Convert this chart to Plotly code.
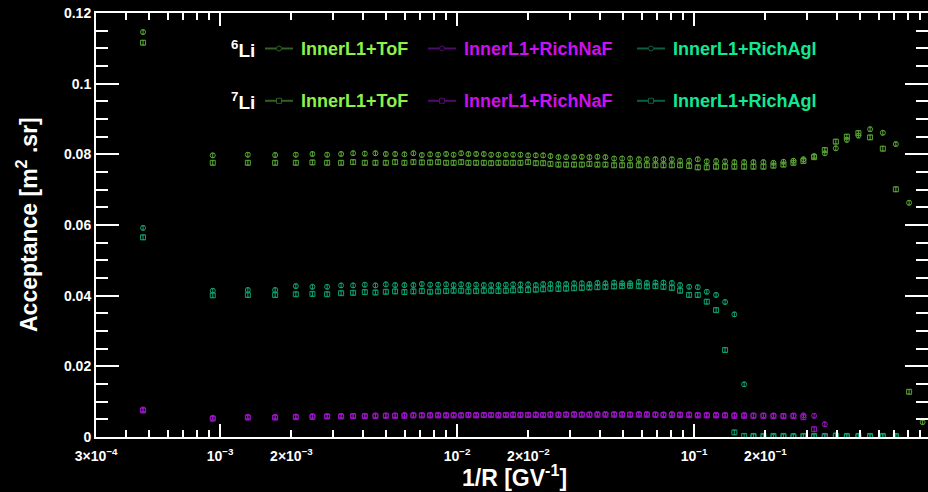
import numpy as np
import plotly.graph_objects as go

# 1/R bin centres [GV^-1]
inv_rigidity = [
    4.73e-4, 9.31e-4, 1.309e-3, 1.707e-3, 2.087e-3, 2.452e-3, 2.829e-3, 3.240e-3, 3.641e-3, 4.079e-3,
    4.522e-3, 5.003e-3, 5.475e-3, 5.993e-3, 6.541e-3, 7.098e-3, 7.694e-3, 8.314e-3, 8.987e-3, 9.665e-3,
    1.040e-2, 1.116e-2, 1.203e-2, 1.296e-2, 1.392e-2, 1.494e-2, 1.606e-2, 1.723e-2, 1.850e-2, 1.993e-2,
    2.148e-2, 2.307e-2, 2.476e-2, 2.676e-2, 2.884e-2, 3.116e-2, 3.359e-2, 3.616e-2, 3.908e-2, 4.224e-2,
    4.597e-2, 4.969e-2, 5.370e-2, 5.845e-2, 6.317e-2, 6.866e-2, 7.423e-2, 8.054e-2, 8.728e-2, 9.526e-2,
    0.1036, 0.1131, 0.1238, 0.1351, 0.1479, 0.1626, 0.1780, 0.1961, 0.2161, 0.2382,
    0.2624, 0.2892, 0.3208, 0.3560, 0.3962, 0.4410, 0.4934, 0.5527, 0.6255, 0.7098,
    0.8076, 0.9207,
]

# 6Li acceptances [m^2 sr]
li6_tof = [
    0.1146, 0.0797, 0.0799, 0.0798, 0.0799, 0.0801, 0.0799, 0.0801, 0.0803, 0.0802,
    0.0803, 0.0801, 0.0801, 0.0800, 0.0803, 0.0798, 0.0800, 0.0799, 0.0801, 0.0799,
    0.0803, 0.0801, 0.0801, 0.0801, 0.0799, 0.0799, 0.0799, 0.0799, 0.0799, 0.0797,
    0.0797, 0.0797, 0.0795, 0.0792, 0.0792, 0.0792, 0.0793, 0.0792, 0.0793, 0.0792,
    0.0788, 0.0788, 0.0788, 0.0786, 0.0786, 0.0786, 0.0786, 0.0786, 0.0782, 0.0782,
    0.0786, 0.0780, 0.0781, 0.0780, 0.0778, 0.0778, 0.0778, 0.0778, 0.0776, 0.0779,
    0.0782, 0.0786, 0.0795, 0.0803, 0.0817, 0.0841, 0.0853, 0.0871, 0.0861, 0.0829,
    0.0663, 0.0042,
]
li6_naf = [
    0.0078, 0.0054, 0.0057, 0.0057, 0.0058, 0.0059, 0.0059, 0.0060, 0.0060, 0.0060,
    0.0061, 0.0061, 0.0061, 0.0062, 0.0062, 0.0062, 0.0062, 0.0063, 0.0062, 0.0063,
    0.0062, 0.0063, 0.0063, 0.0062, 0.0063, 0.0063, 0.0063, 0.0064, 0.0063, 0.0063,
    0.0064, 0.0063, 0.0064, 0.0064, 0.0064, 0.0065, 0.0064, 0.0064, 0.0065, 0.0065,
    0.0065, 0.0065, 0.0064, 0.0065, 0.0065, 0.0064, 0.0064, 0.0065, 0.0064, 0.0064,
    0.0063, 0.0063, 0.0063, 0.0062, 0.0062, 0.0062, 0.0061, 0.0061, 0.0061, 0.0060,
    0.0061, 0.0061, 0.0060, 0.0036, None, None, None, None, None, None,
    None, None,
]
li6_agl = [
    0.0592, 0.0414, 0.0416, 0.0416, 0.0427, 0.0425, 0.0425, 0.0429, 0.0429, 0.0431,
    0.0429, 0.0432, 0.0430, 0.0430, 0.0430, 0.0433, 0.0431, 0.0431, 0.0432, 0.0430,
    0.0432, 0.0430, 0.0431, 0.0430, 0.0430, 0.0430, 0.0431, 0.0432, 0.0432, 0.0432,
    0.0430, 0.0433, 0.0433, 0.0433, 0.0433, 0.0435, 0.0435, 0.0433, 0.0436, 0.0435,
    0.0437, 0.0435, 0.0435, 0.0439, 0.0436, 0.0437, 0.0437, 0.0436, 0.0430, 0.0425,
    0.0424, 0.0411, 0.0402, 0.0382, 0.0347, 0.0149, 0.0003, 0.0003, 0.0002, 0.0003,
    0.0003, 0.0003, 0.0003, 0.0002, 0.0004, 0.0003, 0.0003, 0.0003, 0.0003, 0.0003,
    None, None,
]

# 7Li acceptances [m^2 sr]
li7_tof = [
    0.1116, 0.0776, 0.0776, 0.0776, 0.0776, 0.0777, 0.0776, 0.0776, 0.0778, 0.0776,
    0.0776, 0.0776, 0.0778, 0.0776, 0.0778, 0.0777, 0.0777, 0.0778, 0.0776, 0.0776,
    0.0778, 0.0776, 0.0776, 0.0776, 0.0775, 0.0776, 0.0776, 0.0776, 0.0776, 0.0778,
    0.0775, 0.0775, 0.0773, 0.0771, 0.0771, 0.0771, 0.0771, 0.0773, 0.0771, 0.0771,
    0.0769, 0.0769, 0.0769, 0.0769, 0.0769, 0.0769, 0.0769, 0.0769, 0.0769, 0.0767,
    0.0763, 0.0763, 0.0765, 0.0765, 0.0765, 0.0765, 0.0765, 0.0765, 0.0768, 0.0771,
    0.0776, 0.0781, 0.0792, 0.0812, 0.0836, 0.0850, 0.0860, 0.0848, 0.0816, 0.0701,
    0.0128, None,
]
li7_naf = [
    0.0075, 0.0052, 0.0055, 0.0055, 0.0056, 0.0057, 0.0058, 0.0058, 0.0059, 0.0059,
    0.0059, 0.0060, 0.0060, 0.0060, 0.0061, 0.0061, 0.0061, 0.0061, 0.0061, 0.0061,
    0.0061, 0.0062, 0.0061, 0.0062, 0.0062, 0.0061, 0.0062, 0.0062, 0.0062, 0.0062,
    0.0062, 0.0062, 0.0063, 0.0062, 0.0063, 0.0063, 0.0063, 0.0063, 0.0063, 0.0063,
    0.0063, 0.0063, 0.0063, 0.0063, 0.0063, 0.0063, 0.0062, 0.0062, 0.0062, 0.0062,
    0.0061, 0.0061, 0.0061, 0.0061, 0.0060, 0.0060, 0.0060, 0.0060, 0.0059, 0.0059,
    0.0059, 0.0056, 0.0022, 0.0002, None, None, None, None, None, None,
    None, None,
]
li7_agl = [
    0.0565, 0.0401, 0.0402, 0.0402, 0.0404, 0.0405, 0.0404, 0.0407, 0.0408, 0.0410,
    0.0409, 0.0411, 0.0412, 0.0410, 0.0412, 0.0413, 0.0411, 0.0412, 0.0413, 0.0414,
    0.0414, 0.0412, 0.0413, 0.0414, 0.0414, 0.0413, 0.0414, 0.0415, 0.0416, 0.0416,
    0.0417, 0.0418, 0.0420, 0.0419, 0.0420, 0.0421, 0.0422, 0.0423, 0.0424, 0.0425,
    0.0426, 0.0427, 0.0428, 0.0427, 0.0426, 0.0427, 0.0425, 0.0422, 0.0414, 0.0402,
    0.0402, 0.0383, 0.0359, 0.0246, 0.0013, 0.0003, 0.0003, 0.0003, 0.0003, 0.0003,
    0.0002, 0.0003, 0.0003, 0.0003, 0.0004, 0.0003, 0.0003, 0.0003, 0.0003, 0.0003,
    None, None,
]

labels = ["InnerL1+ToF", "InnerL1+RichNaF", "InnerL1+RichAgl"]
x_label_vals = [3e-4, 1e-3, 2e-3, 1e-2, 2e-2, 1e-1, 2e-1]
x_label_text = ["3×10<sup>−4</sup>", "10<sup>−3</sup>", "2×10<sup>−3</sup>", "10<sup>−2</sup>",
                "2×10<sup>−2</sup>", "10<sup>−1</sup>", "2×10<sup>−1</sup>"]
y_label_vals = [0, 0.02, 0.04, 0.06, 0.08, 0.1, 0.12]
y_label_text = ["0", "0.02", "0.04", "0.06", "0.08", "0.1", "0.12"]

# styling
W, H = 928, 492
ML, MR, MT, MB = 96, 0, 13, 55
PX_PER_DEC = 237.0
X_LO = np.log10(3e-4) - 0.0008
X_HI = X_LO + (W - ML - MR) / PX_PER_DEC
FONT = "Liberation Sans"
WHITE = "#ffffff"

text_col = {"InnerL1+ToF": "#8ef04a", "InnerL1+RichNaF": "#cc10f0", "InnerL1+RichAgl": "#12e894"}
mark_col = {"InnerL1+ToF": "#58a236", "InnerL1+RichNaF": "#9a14c4", "InnerL1+RichAgl": "#0fa06c"}
leg_col = {"InnerL1+ToF": "#2f6024", "InnerL1+RichNaF": "#520a6c", "InnerL1+RichAgl": "#0c5e42"}

series = [
    ("InnerL1+ToF", li6_tof, "circle-open"),
    ("InnerL1+RichNaF", li6_naf, "circle-open"),
    ("InnerL1+RichAgl", li6_agl, "circle-open"),
    ("InnerL1+ToF", li7_tof, "square-open"),
    ("InnerL1+RichNaF", li7_naf, "square-open"),
    ("InnerL1+RichAgl", li7_agl, "square-open"),
]

fig = go.Figure()
for name, vals, sym in series:
    c = mark_col[name]
    fig.add_trace(go.Scatter(
        x=inv_rigidity, y=vals, mode="markers", name=name, showlegend=False,
        marker=dict(symbol=sym, size=5, color=c, line=dict(width=1, color=c)),
        error_y=dict(type="constant", value=0.0006, color=c, thickness=1, width=1.5),
    ))

# carrier trace for the overlaid tick-only axes
fig.add_trace(go.Scatter(x=[1e-3], y=[0.05], xaxis="x2", yaxis="y2", mode="markers",
                         marker=dict(opacity=0), hoverinfo="skip", showlegend=False))

minor_x = [m * 10.0 ** e for e in (-4, -3, -2, -1) for m in range(2, 10)
           if 3e-4 <= m * 10.0 ** e < 1 and m * 10.0 ** e not in x_label_vals]
tickfont = dict(family=FONT, size=14, color=WHITE, weight="bold")

fig.update_layout(
    width=W, height=H, autosize=False,
    margin=dict(l=ML, r=MR, t=MT, b=MB, pad=0),
    paper_bgcolor="#000000", plot_bgcolor="#000000",
    showlegend=False,
    xaxis=dict(
        type="log", range=[X_LO, X_HI], showgrid=False, zeroline=False,
        showline=True, linecolor=WHITE, linewidth=2, mirror="ticks",
        ticks="inside", ticklen=7, tickwidth=2, tickcolor=WHITE,
        tickmode="array", tickvals=x_label_vals, ticktext=x_label_text, tickfont=tickfont,
        ticklabelstandoff=5,
        minor=dict(ticks="inside", ticklen=7, tickwidth=2, tickcolor=WHITE,
                   tickmode="array", tickvals=minor_x, showgrid=False),
    ),
    xaxis2=dict(
        type="log", range=[X_LO, X_HI], overlaying="x", anchor="y", side="bottom",
        showgrid=False, zeroline=False, showline=False, mirror="ticks",
        ticks="inside", ticklen=13, tickwidth=2, tickcolor=WHITE,
        tickmode="array", tickvals=[1e-3, 1e-2, 1e-1], showticklabels=False,
    ),
    yaxis=dict(
        range=[0, 0.12], showgrid=False, zeroline=False,
        showline=True, linecolor=WHITE, linewidth=2, mirror=False,
        ticks="inside", ticklen=23, tickwidth=2, tickcolor=WHITE,
        tickmode="array", tickvals=y_label_vals, ticktext=y_label_text, tickfont=tickfont,
        minor=dict(ticks="inside", ticklen=12, tickwidth=2, tickcolor=WHITE,
                   tickmode="linear", tick0=0, dtick=0.005, showgrid=False),
    ),
    yaxis2=dict(
        range=[0, 0.12], overlaying="y", anchor="x", side="right",
        showgrid=False, zeroline=False, showline=False,
        ticks="inside", ticklen=23, tickwidth=2, tickcolor=WHITE,
        tickmode="array", tickvals=y_label_vals, showticklabels=False,
        minor=dict(ticks="inside", ticklen=12, tickwidth=2, tickcolor=WHITE,
                   tickmode="linear", tick0=0, dtick=0.005, showgrid=False),
    ),
)

PW, PH = W - ML - MR, H - MT - MB


def px(xp):
    return (xp - ML) / PW


def py(yp):
    return (H - MB - yp) / PH


annotations = [
    dict(text="Acceptance [m<sup>2</sup> .sr]", textangle=-90, xref="paper", yref="paper",
         x=px(27), y=py(225), xanchor="center", yanchor="middle", showarrow=False,
         font=dict(family=FONT, size=23, color=WHITE, weight="bold")),
    dict(text="1/R [GV<sup>-1</sup>]", xref="paper", yref="paper",
         x=px(514), y=py(476), xanchor="center", yanchor="middle", showarrow=False,
         font=dict(family=FONT, size=23, color=WHITE, weight="bold")),
]
shapes = []

rows = [("<sup>6</sup>Li", 48.5, "circle"), ("<sup>7</sup>Li", 100.8, "rect")]
entry_line_x = [(265, 293), (428, 456), (637, 665)]
entry_text_x = [299, 462, 671]
for row_text, yrow, shp in rows:
    annotations.append(dict(text=row_text, xref="paper", yref="paper", x=px(257), y=py(yrow),
                            xanchor="right", yanchor="middle", showarrow=False,
                            font=dict(family=FONT, size=19, color=WHITE, weight="bold")))
    for name, (lx0, lx1), tx in zip(labels, entry_line_x, entry_text_x):
        col = leg_col[name]
        shapes.append(dict(type="line", xref="paper", yref="paper", x0=px(lx0), x1=px(lx1),
                           y0=py(yrow), y1=py(yrow), line=dict(color=col, width=2)))
        xm = px((lx0 + lx1) / 2)
        shapes.append(dict(type=shp, xref="paper", yref="paper", xsizemode="pixel", ysizemode="pixel",
                           xanchor=xm, yanchor=py(yrow), x0=-2.5, x1=2.5, y0=-2.5, y1=2.5,
                           fillcolor="#000000", line=dict(color=col, width=1)))
        annotations.append(dict(text=name, xref="paper", yref="paper", x=px(tx), y=py(yrow),
                                xanchor="left", yanchor="middle", showarrow=False,
                                font=dict(family=FONT, size=18, color=text_col[name], weight="bold")))

fig.update_layout(annotations=annotations, shapes=shapes)
fig.write_html("out.html")
